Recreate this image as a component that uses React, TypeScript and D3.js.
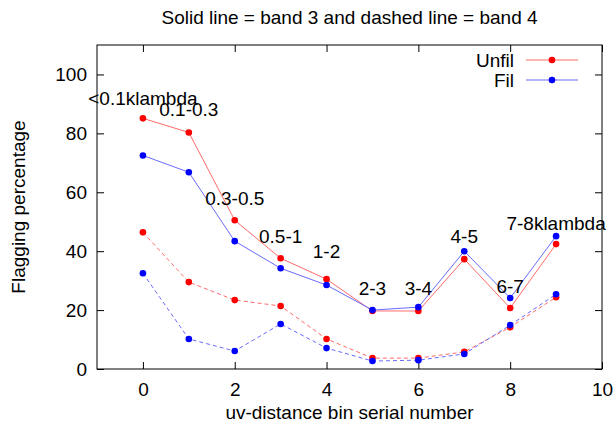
import React, { useEffect, useRef } from 'react';
import * as d3 from 'd3';

const bins = [0, 1, 2, 3, 4, 5, 6, 7, 8, 9];
const binLabels = ['<0.1klambda', '0.1-0.3', '0.3-0.5', '0.5-1', '1-2', '2-3', '3-4', '4-5', '6-7', '7-8klambda'];
// label heights in data coords (centred on their bin)
const labelY = [92, 88, 58, 45, 40, 27.5, 27.5, 45, 28, 49.5];

const unfilBand3 = [85.1, 80.3, 50.5, 37.6, 30.5, 19.7, 19.7, 37.3, 20.7, 42.4];
const filBand3 = [72.5, 66.8, 43.4, 34.2, 28.5, 20.0, 21.0, 40.0, 24.1, 45.1];
const unfilBand4 = [46.4, 29.5, 23.4, 21.4, 10.2, 3.7, 3.7, 5.8, 14.2, 24.4];
const filBand4 = [32.5, 10.2, 6.1, 15.3, 7.1, 2.7, 3.0, 5.1, 14.9, 25.4];

const xTicks = [0, 2, 4, 6, 8, 10];
const yTicks = [0, 20, 40, 60, 80, 100];

const W = 616;
const H = 431;
const margin = { top: 45, right: 14, bottom: 62, left: 97 };
const FS = 19;

const App = () => {
  const svgRef = useRef<SVGSVGElement>(null);

  useEffect(() => {
    const svg = d3.select(svgRef.current);
    svg.selectAll('*').remove();
    const width = W - margin.left - margin.right;
    const height = H - margin.top - margin.bottom;
    const font = 'Liberation Sans, Arial, sans-serif';

    const x = d3.scaleLinear().domain([-1, 10]).range([0, width]);
    const y = d3.scaleLinear().domain([0, 110]).range([height, 0]);

    const g = svg.append('g').attr('transform', `translate(${margin.left}, ${margin.top})`);

    // frame
    g.append('rect')
      .attr('x', 0)
      .attr('y', 0)
      .attr('width', width)
      .attr('height', height)
      .attr('fill', 'none')
      .attr('stroke', '#000')
      .attr('stroke-width', 1);

    const axisStyle = (sel: any) => {
      sel.select('.domain').remove();
      sel.selectAll('text').attr('font-family', font).attr('font-size', FS).attr('fill', '#000');
      sel.selectAll('line').attr('stroke', '#000');
    };

    g.append('g')
      .attr('transform', `translate(0, ${height})`)
      .call(d3.axisBottom(x).tickValues(xTicks).tickSizeInner(-7).tickSizeOuter(0).tickPadding(14))
      .call(axisStyle);
    g.append('g')
      .call(d3.axisTop(x).tickValues(xTicks).tickSizeInner(-7).tickSizeOuter(0).tickFormat(() => ''))
      .call(axisStyle);
    g.append('g')
      .call(d3.axisLeft(y).tickValues(yTicks).tickSizeInner(-7).tickSizeOuter(0).tickPadding(10))
      .call(axisStyle);
    g.append('g')
      .attr('transform', `translate(${width}, 0)`)
      .call(d3.axisRight(y).tickValues(yTicks).tickSizeInner(-7).tickSizeOuter(0).tickFormat(() => ''))
      .call(axisStyle);

    const line = d3
      .line<number>()
      .x((_, i) => x(bins[i]))
      .y(d => y(d));

    const series = [
      { data: unfilBand3, line: '#ff6a6a', pt: '#ff0000', dash: null },
      { data: filBand3, line: '#6a6aff', pt: '#0000ff', dash: null },
      { data: unfilBand4, line: '#ff6a6a', pt: '#ff0000', dash: '4,3' },
      { data: filBand4, line: '#6a6aff', pt: '#0000ff', dash: '4,3' }
    ];

    series.forEach(s => {
      g.append('path')
        .datum(s.data)
        .attr('d', line)
        .attr('fill', 'none')
        .attr('stroke', s.line)
        .attr('stroke-width', 1)
        .attr('stroke-dasharray', s.dash);
      g.selectAll(null)
        .data(s.data)
        .enter()
        .append('circle')
        .attr('cx', (_, i) => x(bins[i]))
        .attr('cy', d => y(d))
        .attr('r', 3.3)
        .attr('fill', s.pt);
    });

    // bin labels
    g.selectAll('.binlabel')
      .data(binLabels)
      .enter()
      .append('text')
      .attr('class', 'binlabel')
      .attr('x', (_, i) => x(bins[i]))
      .attr('y', (_, i) => y(labelY[i]))
      .attr('text-anchor', 'middle')
      .attr('dy', '0.35em')
      .attr('font-family', font)
      .attr('font-size', FS)
      .text(d => d);

    // legend
    const legend = [
      { name: 'Unfil', line: '#ff6a6a', pt: '#ff0000' },
      { name: 'Fil', line: '#6a6aff', pt: '#0000ff' }
    ];
    legend.forEach((l, i) => {
      const ly = 15 + i * 20;
      g.append('text')
        .attr('x', 417)
        .attr('y', ly)
        .attr('dy', '0.35em')
        .attr('text-anchor', 'end')
        .attr('font-family', font)
        .attr('font-size', FS)
        .text(l.name);
      g.append('line')
        .attr('x1', 429)
        .attr('x2', 481)
        .attr('y1', ly)
        .attr('y2', ly)
        .attr('stroke', l.line)
        .attr('stroke-width', 1);
      g.append('circle').attr('cx', 455).attr('cy', ly).attr('r', 3.3).attr('fill', l.pt);
    });

    // title and axis labels
    svg.append('text')
      .attr('x', margin.left + width / 2)
      .attr('y', 17)
      .attr('dy', '0.35em')
      .attr('text-anchor', 'middle')
      .attr('font-family', font)
      .attr('font-size', FS)
      .text('Solid line = band 3 and dashed line = band 4');
    svg.append('text')
      .attr('transform', `translate(18, ${margin.top + height / 2}) rotate(-90)`)
      .attr('dy', '0.35em')
      .attr('text-anchor', 'middle')
      .attr('font-family', font)
      .attr('font-size', FS)
      .text('Flagging percentage');
    svg.append('text')
      .attr('x', margin.left + width / 2)
      .attr('y', 412)
      .attr('dy', '0.35em')
      .attr('text-anchor', 'middle')
      .attr('font-family', font)
      .attr('font-size', FS)
      .text('uv-distance bin serial number');
  }, []);

  return (
    <svg
      ref={svgRef}
      width={W}
      height={H}
      style={{ position: 'absolute', left: 0, top: 0, background: '#fff' }}
    />
  );
};

export default App;
